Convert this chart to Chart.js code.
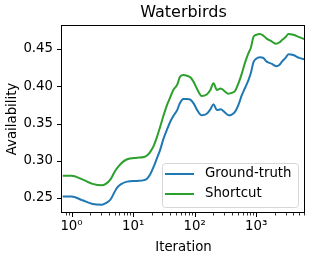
<!DOCTYPE html>
<html>
<head>
<meta charset="utf-8">
<script src="https://cdn.jsdelivr.net/npm/chart.js@4"></script>
<style>
  html, body { margin: 0; padding: 0; background: #fff; }
</style>
</head>
<body>
<canvas id="chart" width="312" height="260"></canvas>
<script>
// values
const iterations = [0.72, 1.0, 1.5, 2.2, 3.1, 3.6, 4.3, 5.0, 5.5, 6.5, 8, 11.6, 15, 16.8, 19, 21.6, 24, 27.6, 31, 36,
  40, 45, 52, 58, 66, 75, 85, 96, 110, 130, 157, 180, 202, 230, 265, 300, 355, 400, 455, 520,
  583, 660, 745, 820, 900, 1000, 1150, 1300, 1480, 1800, 2100, 2400, 2620, 3000, 3340, 4000, 5000, 6200];
const groundTruth = [0.252, 0.252, 0.247, 0.242, 0.241, 0.243, 0.248, 0.258, 0.264, 0.269, 0.272, 0.273, 0.274, 0.276, 0.282, 0.292, 0.302, 0.315, 0.329, 0.343,
  0.352, 0.360, 0.368, 0.378, 0.383, 0.383, 0.382, 0.377, 0.368, 0.361, 0.363, 0.369, 0.376, 0.368, 0.369, 0.366, 0.361, 0.362, 0.366, 0.376,
  0.388, 0.398, 0.408, 0.418, 0.432, 0.437, 0.439, 0.438, 0.433, 0.430, 0.427, 0.429, 0.433, 0.438, 0.443, 0.442, 0.438, 0.436];
const shortcut = [0.280, 0.280, 0.275, 0.269, 0.267, 0.269, 0.275, 0.285, 0.290, 0.297, 0.302, 0.304, 0.305, 0.307, 0.312, 0.320, 0.330, 0.346, 0.360, 0.376,
  0.385, 0.395, 0.402, 0.413, 0.415, 0.414, 0.412, 0.406, 0.396, 0.387, 0.389, 0.395, 0.404, 0.395, 0.397, 0.394, 0.390, 0.391, 0.394, 0.405,
  0.417, 0.432, 0.444, 0.452, 0.466, 0.469, 0.470, 0.468, 0.464, 0.460, 0.457, 0.459, 0.462, 0.466, 0.470, 0.469, 0.466, 0.463];

const yTicks = [0.25, 0.30, 0.35, 0.40, 0.45];
const yTickLabels = ["0.25", "0.30", "0.35", "0.40", "0.45"];
const xTicks = [1, 10, 100, 1000];
const xTickLabels = ["10\u2070", "10\u00b9", "10\u00b2", "10\u00b3"];

const X_MIN = 0.715, X_MAX = 6200;
const Y_MIN = 0.2299, Y_MAX = 0.4822;
const FONT = "'DejaVu Sans', sans-serif";
const FS = 13.3;

// minor log ticks 2..9 per decade
const minorTicks = [];
for (let d = 0.1; d < X_MAX; d *= 10) {
  for (let m = 2; m <= 9; m++) {
    const v = +(m * d).toPrecision(3);
    if (v >= X_MIN && v <= X_MAX) minorTicks.push(v);
  }
}

const toPoints = (ys) => ys.map((y, i) => ({ x: iterations[i], y }));

// axes frame, tick marks and the legend box
const framePlugin = {
  id: "frame",
  afterDraw(chart) {
    const { ctx, chartArea: a, scales } = chart;
    const x = scales.x, y = scales.y;
    ctx.save();
    ctx.strokeStyle = "#000";
    ctx.lineWidth = 1;
    ctx.strokeRect(Math.round(a.left) - 0.5, Math.round(a.top) + 0.5,
      Math.round(a.right - a.left), Math.round(a.bottom - a.top) - 1);

    ctx.beginPath();
    yTicks.forEach((v) => {
      const py = Math.round(y.getPixelForValue(v)) + 0.5;
      ctx.moveTo(a.left - 0.5, py);
      ctx.lineTo(a.left - 5, py);
    });
    xTicks.forEach((v) => {
      const px = Math.round(x.getPixelForValue(v)) + 0.5;
      ctx.moveTo(px, a.bottom - 0.5);
      ctx.lineTo(px, a.bottom + 4);
    });
    ctx.stroke();
    ctx.lineWidth = 0.8;
    ctx.beginPath();
    minorTicks.forEach((v) => {
      const px = Math.round(x.getPixelForValue(v)) + 0.5;
      ctx.moveTo(px, a.bottom - 0.5);
      ctx.lineTo(px, a.bottom + 2.5);
    });
    ctx.stroke();

    // legend
    const lx = 162, ly = 163, lw = 136, lh = 44, r = 3;
    ctx.beginPath();
    ctx.roundRect(lx + 0.5, ly + 0.5, lw, lh, r);
    ctx.fillStyle = "rgba(255,255,255,0.8)";
    ctx.fill();
    ctx.strokeStyle = "#d6d6d6";
    ctx.lineWidth = 1;
    ctx.stroke();
    ctx.font = FS + "px " + FONT;
    ctx.textBaseline = "middle";
    ctx.textAlign = "left";
    chart.data.datasets.forEach((ds, i) => {
      const yy = 174 + i * 20;
      ctx.strokeStyle = ds.borderColor;
      ctx.lineWidth = 2;
      ctx.beginPath();
      ctx.moveTo(165, yy);
      ctx.lineTo(194, yy);
      ctx.stroke();
      ctx.fillStyle = "#000";
      ctx.fillText(ds.label, 205, yy);
    });
    ctx.restore();
  },
};

new Chart(document.getElementById("chart"), {
  type: "line",
  data: {
    datasets: [
      { label: "Ground-truth", data: toPoints(groundTruth), borderColor: "#1f77b4" },
      { label: "Shortcut", data: toPoints(shortcut), borderColor: "#2ca02c" },
    ],
  },
  options: {
    responsive: false,
    animation: false,
    devicePixelRatio: 1,
    layout: { padding: { left: 0, right: 7, top: 0, bottom: 0 } },
    elements: {
      point: { radius: 0 },
      line: { borderWidth: 2, cubicInterpolationMode: "monotone", fill: false },
    },
    plugins: {
      legend: { display: false },
      tooltip: { enabled: false },
      title: {
        display: true,
        text: "Waterbirds",
        fullSize: false,
        color: "#000",
        font: { family: FONT, size: 16, weight: "normal", lineHeight: 1.2 },
        padding: { top: 3, bottom: 2.8 },
      },
    },
    scales: {
      x: {
        type: "logarithmic",
        min: X_MIN,
        max: X_MAX,
        grid: { display: false, drawTicks: false },
        border: { display: false },
        afterBuildTicks: (s) => { s.ticks = xTicks.map((v) => ({ value: v })); },
        afterFit: (s) => { s.height = 47; },
        ticks: {
          color: "#000",
          font: { family: FONT, size: FS },
          padding: 6,
          maxRotation: 0,
          autoSkip: false,
          callback: (v, i) => xTickLabels[i],
        },
        title: {
          display: true,
          text: "Iteration",
          color: "#000",
          font: { family: FONT, size: FS },
          padding: { top: 0, bottom: 4 },
        },
      },
      y: {
        type: "linear",
        min: Y_MIN,
        max: Y_MAX,
        grid: { display: false, drawTicks: false },
        border: { display: false },
        afterBuildTicks: (s) => { s.ticks = yTicks.map((v) => ({ value: v })); },
        afterFit: (s) => { s.width = 62; },
        ticks: {
          color: "#000",
          font: { family: FONT, size: FS },
          padding: 9,
          autoSkip: false,
          callback: (v, i) => yTickLabels[i],
        },
        title: {
          display: true,
          text: "Availability",
          color: "#000",
          font: { family: FONT, size: FS },
          padding: { top: 5, bottom: 0 },
        },
      },
    },
  },
  plugins: [framePlugin],
});
</script>
</body>
</html>
